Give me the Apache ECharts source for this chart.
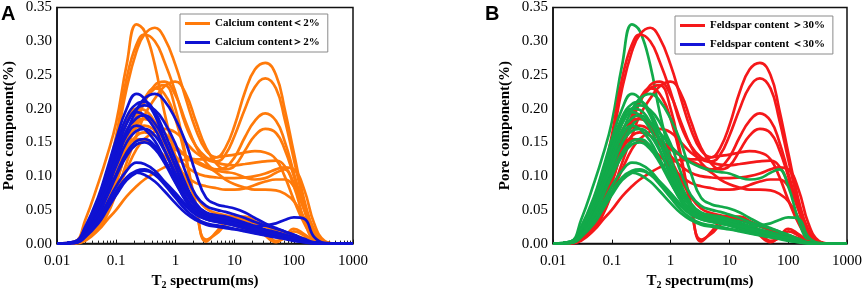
<!DOCTYPE html>
<html>
<head>
<meta charset="utf-8">
<script src="https://cdn.jsdelivr.net/npm/echarts@6/dist/echarts.min.js"></script>
<style>
  html, body { margin: 0; padding: 0; background: #fff; }
  #main { width: 865px; height: 295px; }
</style>
</head>
<body>
<div id="main"></div>
<script>
// T2 relaxation time (ms) sample points shared by every curve
const T2 = [0.01, 0.02, 0.03, 0.05, 0.07, 0.1, 0.15, 0.22, 0.3, 0.45, 0.65, 1, 1.5, 2.2, 3.3, 5, 7, 10, 15, 22, 33, 50, 70, 100, 150, 220, 330, 500, 1000];
const xTickLabels = ['0.01', '0.1', '1', '10', '100', '1000'];
const yTicks = [0, 0.05, 0.1, 0.15, 0.2, 0.25, 0.3, 0.35];

// pore component (%) of each sample
const s01 = [0, 0.003, 0.035, 0.09, 0.13, 0.18, 0.265, 0.325, 0.315, 0.265, 0.195, 0.13, 0.085, 0.055, 0.04, 0.033, 0.03, 0.027, 0.022, 0.017, 0.013, 0.01, 0.008, 0.006, 0.003, 0.001, 0, 0, 0];
const s02 = [0, 0.002, 0.015, 0.05, 0.09, 0.15, 0.23, 0.285, 0.31, 0.32, 0.305, 0.265, 0.215, 0.17, 0.138, 0.128, 0.142, 0.175, 0.225, 0.258, 0.268, 0.25, 0.2, 0.135, 0.065, 0.02, 0.003, 0, 0];
const s03 = [0, 0.002, 0.02, 0.06, 0.1, 0.16, 0.245, 0.295, 0.31, 0.3, 0.27, 0.225, 0.175, 0.145, 0.128, 0.122, 0.132, 0.16, 0.2, 0.232, 0.245, 0.23, 0.185, 0.125, 0.06, 0.018, 0.002, 0, 0];
const s04 = [0, 0.001, 0.008, 0.03, 0.055, 0.09, 0.14, 0.18, 0.21, 0.235, 0.24, 0.22, 0.18, 0.145, 0.12, 0.11, 0.113, 0.128, 0.158, 0.182, 0.193, 0.182, 0.152, 0.105, 0.052, 0.016, 0.002, 0, 0];
const s05 = [0, 0.001, 0.006, 0.022, 0.042, 0.075, 0.12, 0.16, 0.19, 0.215, 0.233, 0.24, 0.222, 0.182, 0.142, 0.118, 0.11, 0.115, 0.138, 0.16, 0.17, 0.164, 0.14, 0.1, 0.05, 0.015, 0.002, 0, 0];
const s06 = [0, 0.001, 0.008, 0.03, 0.055, 0.09, 0.14, 0.18, 0.21, 0.23, 0.235, 0.2, 0.13, 0.06, 0.003, 0.018, 0.034, 0.04, 0.04, 0.033, 0.018, 0.004, 0.008, 0.018, 0.012, 0.003, 0, 0, 0];
const s07 = [0, 0.001, 0.01, 0.035, 0.06, 0.1, 0.15, 0.19, 0.215, 0.23, 0.222, 0.185, 0.125, 0.055, 0.006, 0.015, 0.028, 0.036, 0.038, 0.03, 0.012, 0.002, 0.01, 0.022, 0.014, 0.004, 0, 0, 0];
const s08 = [0, 0.002, 0.02, 0.06, 0.1, 0.145, 0.185, 0.2, 0.198, 0.18, 0.15, 0.11, 0.075, 0.055, 0.045, 0.042, 0.04, 0.038, 0.034, 0.03, 0.025, 0.02, 0.016, 0.012, 0.006, 0.002, 0, 0, 0];
const s09 = [0, 0.001, 0.012, 0.045, 0.08, 0.12, 0.155, 0.172, 0.175, 0.168, 0.155, 0.14, 0.13, 0.125, 0.125, 0.128, 0.13, 0.132, 0.135, 0.137, 0.135, 0.125, 0.1, 0.065, 0.03, 0.008, 0.001, 0, 0];
const s10 = [0, 0.001, 0.006, 0.025, 0.045, 0.075, 0.11, 0.14, 0.155, 0.166, 0.17, 0.165, 0.15, 0.135, 0.125, 0.12, 0.117, 0.116, 0.118, 0.12, 0.122, 0.123, 0.115, 0.09, 0.05, 0.015, 0.002, 0, 0];
const s11 = [0, 0.001, 0.01, 0.04, 0.07, 0.105, 0.14, 0.16, 0.165, 0.16, 0.148, 0.13, 0.115, 0.105, 0.1, 0.098, 0.097, 0.097, 0.098, 0.1, 0.104, 0.11, 0.113, 0.11, 0.08, 0.03, 0.004, 0, 0];
const s12 = [0, 0.001, 0.012, 0.042, 0.075, 0.11, 0.142, 0.155, 0.153, 0.143, 0.13, 0.115, 0.1, 0.09, 0.085, 0.082, 0.08, 0.08, 0.082, 0.087, 0.092, 0.095, 0.095, 0.085, 0.055, 0.02, 0.002, 0, 0];
const s13 = [0, 0, 0.004, 0.02, 0.035, 0.05, 0.07, 0.085, 0.095, 0.105, 0.113, 0.12, 0.124, 0.122, 0.115, 0.105, 0.095, 0.088, 0.083, 0.08, 0.08, 0.079, 0.074, 0.063, 0.038, 0.012, 0.002, 0, 0];
const s14 = [0, 0.001, 0.01, 0.04, 0.07, 0.11, 0.15, 0.175, 0.185, 0.18, 0.165, 0.145, 0.13, 0.12, 0.113, 0.108, 0.106, 0.104, 0.098, 0.095, 0.097, 0.105, 0.11, 0.085, 0.035, 0.004, 0, 0, 0];
const s15 = [0, 0.002, 0.016, 0.055, 0.09, 0.13, 0.168, 0.183, 0.185, 0.175, 0.155, 0.125, 0.095, 0.07, 0.052, 0.045, 0.042, 0.04, 0.037, 0.033, 0.027, 0.02, 0.015, 0.012, 0.008, 0.003, 0.001, 0, 0];
const s16 = [0, 0.003, 0.025, 0.07, 0.11, 0.155, 0.2, 0.222, 0.215, 0.19, 0.155, 0.115, 0.08, 0.058, 0.046, 0.042, 0.04, 0.036, 0.031, 0.026, 0.021, 0.017, 0.013, 0.009, 0.004, 0.001, 0, 0, 0];
const s17 = [0, 0.001, 0.01, 0.04, 0.075, 0.12, 0.165, 0.198, 0.215, 0.222, 0.212, 0.185, 0.15, 0.105, 0.068, 0.058, 0.055, 0.052, 0.046, 0.038, 0.03, 0.023, 0.018, 0.013, 0.006, 0.001, 0, 0, 0];
const s18 = [0, 0.002, 0.02, 0.06, 0.1, 0.145, 0.188, 0.207, 0.21, 0.195, 0.165, 0.125, 0.088, 0.06, 0.045, 0.04, 0.037, 0.034, 0.029, 0.024, 0.019, 0.015, 0.012, 0.008, 0.004, 0.001, 0, 0, 0];
const s19 = [0, 0.002, 0.016, 0.052, 0.09, 0.135, 0.178, 0.2, 0.205, 0.198, 0.18, 0.148, 0.105, 0.072, 0.056, 0.05, 0.047, 0.043, 0.038, 0.032, 0.027, 0.022, 0.018, 0.013, 0.007, 0.002, 0, 0, 0];
const s20 = [0, 0.003, 0.022, 0.065, 0.1, 0.14, 0.178, 0.195, 0.19, 0.17, 0.14, 0.1, 0.068, 0.047, 0.037, 0.033, 0.03, 0.027, 0.023, 0.019, 0.015, 0.012, 0.009, 0.006, 0.003, 0.001, 0, 0, 0];
const s21 = [0, 0.002, 0.018, 0.055, 0.09, 0.13, 0.168, 0.186, 0.19, 0.178, 0.152, 0.115, 0.08, 0.055, 0.042, 0.038, 0.036, 0.033, 0.029, 0.025, 0.02, 0.016, 0.013, 0.009, 0.004, 0.001, 0, 0, 0];
const s22 = [0, 0.002, 0.02, 0.058, 0.09, 0.125, 0.16, 0.175, 0.17, 0.152, 0.125, 0.092, 0.063, 0.045, 0.036, 0.033, 0.031, 0.029, 0.025, 0.021, 0.017, 0.013, 0.01, 0.007, 0.003, 0.001, 0, 0, 0];
const s23 = [0, 0.002, 0.016, 0.05, 0.082, 0.115, 0.15, 0.167, 0.17, 0.16, 0.138, 0.105, 0.075, 0.055, 0.045, 0.041, 0.038, 0.034, 0.028, 0.023, 0.018, 0.014, 0.011, 0.008, 0.004, 0.001, 0, 0, 0];
const s24 = [0, 0.002, 0.015, 0.045, 0.073, 0.103, 0.135, 0.152, 0.155, 0.145, 0.125, 0.095, 0.068, 0.05, 0.04, 0.036, 0.033, 0.03, 0.027, 0.026, 0.027, 0.03, 0.035, 0.039, 0.037, 0.01, 0.001, 0, 0];
const s25 = [0, 0.002, 0.014, 0.043, 0.07, 0.1, 0.13, 0.147, 0.15, 0.14, 0.12, 0.09, 0.065, 0.048, 0.038, 0.034, 0.031, 0.028, 0.024, 0.02, 0.016, 0.012, 0.009, 0.006, 0.003, 0.001, 0, 0, 0];
const s26 = [0, 0.002, 0.013, 0.038, 0.06, 0.085, 0.108, 0.12, 0.118, 0.108, 0.092, 0.072, 0.055, 0.043, 0.036, 0.032, 0.03, 0.027, 0.023, 0.019, 0.015, 0.012, 0.009, 0.006, 0.003, 0.001, 0, 0, 0];
const s27 = [0, 0.001, 0.011, 0.033, 0.053, 0.076, 0.098, 0.108, 0.11, 0.102, 0.088, 0.068, 0.05, 0.038, 0.03, 0.027, 0.025, 0.022, 0.019, 0.016, 0.013, 0.01, 0.008, 0.005, 0.002, 0.001, 0, 0, 0];
const s28 = [0, 0.001, 0.01, 0.03, 0.05, 0.072, 0.094, 0.105, 0.108, 0.103, 0.092, 0.075, 0.058, 0.045, 0.038, 0.035, 0.033, 0.03, 0.026, 0.022, 0.018, 0.014, 0.011, 0.008, 0.004, 0.001, 0, 0, 0];
const s29 = [0, 0.002, 0.012, 0.035, 0.055, 0.078, 0.097, 0.105, 0.102, 0.092, 0.078, 0.06, 0.045, 0.035, 0.028, 0.025, 0.023, 0.021, 0.018, 0.015, 0.012, 0.009, 0.007, 0.004, 0.002, 0, 0, 0, 0];

const samples = [s01, s02, s03, s04, s05, s06, s07, s08, s09, s10, s11, s12, s13, s14, s15,
                 s16, s17, s18, s19, s20, s21, s22, s23, s24, s25, s26, s27, s28, s29];
// group of each sample: calcium content (A) and feldspar content (B)
const calcium  = ['low','low','low','low','low','low','low','low','low','low','low','low','low','low','low',
                  'high','high','high','high','high','high','high','high','high','high','high','high','high','high'];
const feldspar = ['low','high','high','high','high','high','high','low','high','high','high','high','high','low','high',
                  'low','low','low','low','low','low','low','low','low','low','low','low','low','low'];

const SERIF = '"Times New Roman", "Liberation Serif", serif';
const calcNames = { low: 'Calcium content＜2%', high: 'Calcium content＞2%' };
const calcColors = { low: '#ff7a0a', high: '#0f12d2' };
const feldNames = { low: 'Feldspar content ＜30%', high: 'Feldspar content ＞30%' };
const feldColors = { low: '#12aa4a', high: '#f5181a' };

function makeSeries(values, name, color, idx) {
  return {
    name: name,
    type: 'line',
    xAxisIndex: idx,
    yAxisIndex: idx,
    data: T2.map((t, i) => [t, values[i]]),
    smooth: 0.45,
    symbol: 'none',
    showSymbol: false,
    silent: true,
    lineStyle: { color: color, width: 2.7 },
    itemStyle: { color: color }
  };
}

let series = [];
samples.forEach((v, k) => {
  series.push(makeSeries(v, calcNames[calcium[k]], calcColors[calcium[k]], 0));
});
samples.forEach((v, k) => {
  series.push(makeSeries(v, feldNames[feldspar[k]], feldColors[feldspar[k]], 1));
});

function xAxisOf(i) {
  return {
    gridIndex: i,
    type: 'log',
    logBase: 10,
    min: 0.01,
    max: 1000,
    axisLine: { lineStyle: { color: '#111', width: 1.5 } },
    axisTick: { inside: true, length: 4, lineStyle: { color: '#111' } },
    minorTick: { show: i === 0, splitNumber: 9, length: 3, lineStyle: { color: '#222' } },
    splitLine: { show: false },
    axisLabel: {
      formatter: v => xTickLabels[Math.round(Math.log10(v)) + 2],
      fontFamily: SERIF, fontSize: 15, color: '#000', margin: 10
    },
    name: '{t|T}{s|2}{t| spectrum(ms)}',
    nameLocation: 'middle',
    nameGap: 28,
    nameTextStyle: {
      rich: {
        t: { fontFamily: SERIF, fontWeight: 'bold', fontSize: 15, color: '#000', lineHeight: 18 },
        s: { fontFamily: SERIF, fontWeight: 'bold', fontSize: 10, color: '#000', lineHeight: 18, verticalAlign: 'bottom', padding: [6, 0, 0, 0] }
      }
    }
  };
}

function yAxisOf(i) {
  return {
    gridIndex: i,
    type: 'value',
    min: yTicks[0],
    max: yTicks[yTicks.length - 1],
    interval: 0.05,
    axisLine: { show: true, lineStyle: { color: '#111', width: 1.5 } },
    axisTick: { show: false },
    splitLine: { show: false },
    axisLabel: { formatter: v => v.toFixed(2), fontFamily: SERIF, fontSize: 15, color: '#000', margin: 5 },
    name: 'Pore component(%)',
    nameLocation: 'middle',
    nameGap: 40,
    nameTextStyle: { fontFamily: SERIF, fontWeight: 'bold', fontSize: 15, color: '#000' }
  };
}

function legendOf(left, top, names, overrideColor) {
  return {
    orient: 'vertical',
    left: left,
    top: top,
    data: names.map((n, j) => overrideColor && j === 1 ? { name: n, itemStyle: { color: overrideColor } } : { name: n }),
    icon: 'rect',
    itemWidth: 25,
    itemHeight: 3,
    itemGap: 8,
    padding: [4, 8, 4, 5],
    borderColor: '#8a8a8a',
    borderWidth: 1,
    backgroundColor: '#fff',
    selectedMode: false,
    textStyle: { fontFamily: SERIF, fontWeight: 'bold', fontSize: 11, color: '#000' }
  };
}

let myChart = echarts.init(document.getElementById('main'));
let option = {
  animation: false,
  backgroundColor: '#fff',
  grid: [
    { left: 57, top: 6, width: 296, height: 242, show: true, borderColor: '#111', borderWidth: 1.5 },
    { left: 553, top: 6, width: 296, height: 242, show: true, borderColor: '#111', borderWidth: 1.5 }
  ],
  xAxis: [xAxisOf(0), xAxisOf(1)],
  yAxis: [yAxisOf(0), yAxisOf(1)],
  legend: [
    legendOf(180, 14, [calcNames.low, calcNames.high], null),
    legendOf(675, 16, [feldNames.high, feldNames.low], '#1414d8')
  ],
  graphic: [
    { type: 'text', left: 1, top: 4, style: { text: 'A', font: 'bold 20px "Liberation Sans", Arial, sans-serif', fill: '#000' } },
    { type: 'text', left: 485, top: 4, style: { text: 'B', font: 'bold 20px "Liberation Sans", Arial, sans-serif', fill: '#000' } }
  ],
  series: series
};
myChart.setOption(option);
</script>
</body>
</html>
